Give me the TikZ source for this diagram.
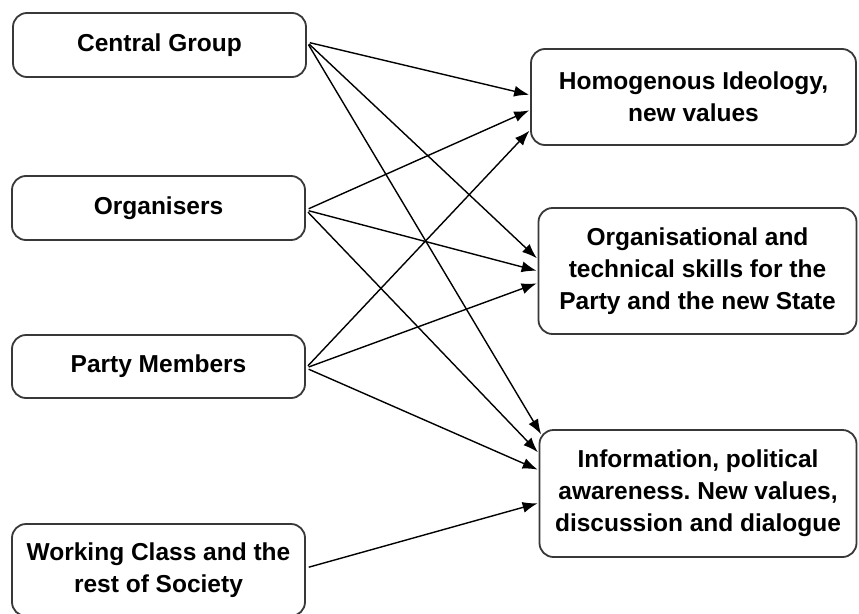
\documentclass[tikz,border=0pt]{standalone}
\usepackage{fontspec}
\setmainfont{Liberation Sans}
\usetikzlibrary{arrows.meta,calc}
\frenchspacing
\begin{document}
\begin{tikzpicture}[x=1pt,y=-1pt,
  box/.style={draw=black!78,line width=1.8pt,rounded corners=14pt,fill=white,
    align=center,inner sep=0pt,
    font=\fontsize{24.5}{32}\selectfont\bfseries\frenchspacing},
  link/.style={line width=1.4pt,-{Latex[length=15pt,width=11pt]},shorten <=3pt,shorten >=1pt}]
\useasboundingbox (0,0) rectangle (859,613);
\clip (0,0) rectangle (859,613);
\fill[white] (0,0) rectangle (859,613);
% left boxes
\node[box,minimum width=293pt,minimum height=64pt] (cg) at (159.5,45) {Central Group};
\node[box,minimum width=293pt,minimum height=64pt] (org) at (158.5,208) {Organisers};
\node[box,minimum width=293pt,minimum height=63pt] (pm) at (158.5,366.5) {Party Members};
\node[box,minimum width=293pt,minimum height=92pt] (wc) at (158.5,570) {Working Class and the\\rest of Society};
% right boxes
\node[box,minimum width=325pt,minimum height=96pt] (hi) at (693.5,97) {Homogenous Ideology,\\new values};
\node[box,minimum width=318pt,minimum height=126pt] (os) at (697.5,271) {Organisational and\\technical skills for the\\Party and the new State};
\node[box,minimum width=317pt,minimum height=127pt] (in) at (698,493.5) {Information, political\\awareness. New values,\\discussion and dialogue};
% connectors
\draw[link] (cg.east |- 0,42) -- (hi.west |- 0,95);
\draw[link] (cg.east |- 0,42) -- (os.west |- 0,259);
\draw[link] (cg.east |- 0,42) -- ($(in.north west)+(3,6)$);
\draw[link] (org.east |- 0,210) -- (hi.west |- 0,110);
\draw[link] (org.east |- 0,210) -- (os.west |- 0,271);
\draw[link] (org.east |- 0,210) -- (in.west |- 0,453);
\draw[link] (pm.east |- 0,368) -- (hi.west |- 0,130);
\draw[link] (pm.east |- 0,368) -- (os.west |- 0,283);
\draw[link] (pm.east |- 0,368) -- (in.west |- 0,470);
\draw[link] (wc.east |- 0,568) -- (in.west |- 0,503);
\end{tikzpicture}
\end{document}
